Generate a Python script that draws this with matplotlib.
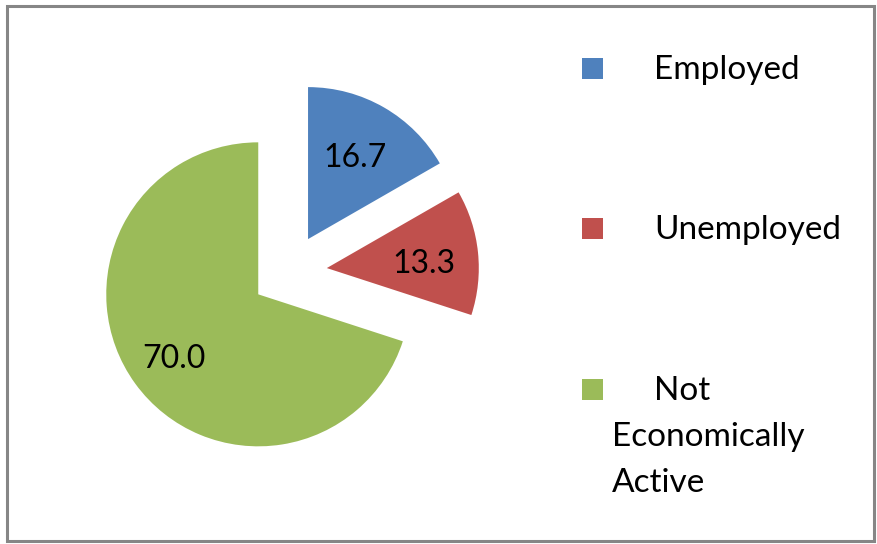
import matplotlib
matplotlib.use("Agg")
import matplotlib.pyplot as plt
from matplotlib.patches import Rectangle

categories = ["Employed", "Unemployed", "Not Economically Active"]
values = [16.7, 13.3, 70.0]
colors = ["#4F81BD", "#C0504D", "#9BBB59"]
legend_texts = ["Employed", "Unemployed", "Not\nEconomically\nActive"]

plt.rcParams['font.family'] = ['Lato', 'DejaVu Sans']

W, H = 878, 544
fig = plt.figure(figsize=(W / 100, H / 100), dpi=100)
fig.patch.set_facecolor("white")

# pie axes: centre at px (289, 272 from top), radius 152 px
cx, cy, r = 289, H - 272, 152
lim = 1.6
size = 2 * lim * r
ax = fig.add_axes([(cx - size / 2) / W, (cy - size / 2) / H, size / W, size / H])
wedges, _, autotexts = ax.pie(
    values, colors=colors, startangle=90, counterclock=False,
    explode=[0.25] * len(values), autopct="%.1f", pctdistance=0.66,
    textprops=dict(fontsize=23, color="black"), radius=1.0)
# Excel places data labels slightly lower than the geometric position
for t in autotexts:
    x, y = t.get_position()
    t.set_position((x - 0.02, y - 0.04))
ax.set_xlim(-lim, lim)
ax.set_ylim(-lim, lim)
ax.set_aspect("equal")
ax.axis("off")

# legend drawn manually to mimic the Excel layout
marker_tops = [58, 218, 379]
for i, (lab, col) in enumerate(zip(legend_texts, colors)):
    top = marker_tops[i]
    fig.patches.append(Rectangle((582 / W, (H - top - 21) / H), 21 / W, 21 / H,
                                 transform=fig.transFigure, facecolor=col,
                                 edgecolor="none"))
    lines = lab.split("\n")
    yc = top + 12
    for j, line in enumerate(lines):
        x = 654 if j == 0 else 612
        fig.text(x / W, (H - yc - j * 46) / H, line, fontsize=24,
                 ha="left", va="center", color="black")

# chart border
fig.patches.append(Rectangle((7.5 / W, 3.5 / H), 867 / W, 535 / H,
                             transform=fig.transFigure, facecolor="none",
                             edgecolor="#868686", linewidth=2.2))

fig.savefig("out.png", dpi=100, facecolor="white")
